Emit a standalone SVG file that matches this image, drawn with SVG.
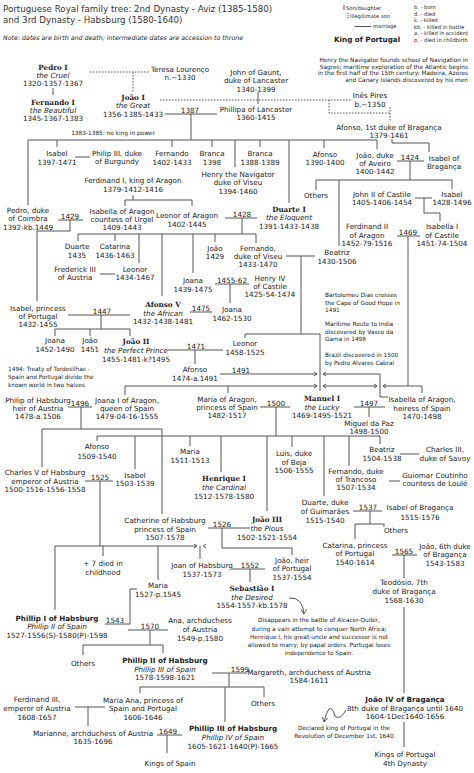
<svg xmlns="http://www.w3.org/2000/svg" width="474" height="773" viewBox="0 0 474 773">
<style>
text{font-family:"DejaVu Sans",Verdana,sans-serif;font-size:7.2px;fill:#222;text-anchor:middle}
.k{font-family:"DejaVu Serif",Georgia,serif;font-weight:bold}
.b{font-weight:bold}
.i{font-style:italic}
.s{font-size:5.8px}
.g{font-size:5.2px;text-anchor:start}
.l{text-anchor:start}
.r{text-anchor:end}
.ttl{font-size:8.7px;text-anchor:start;fill:#333}
.note{font-size:6.3px;font-style:italic;text-anchor:start}
#connectors path{stroke:#555;fill:none;stroke-width:1}
#connectors .d{stroke-dasharray:1.5 1.5}
</style>
<defs>
<marker id="ah" markerWidth="6" markerHeight="6" refX="5" refY="3" orient="auto" markerUnits="userSpaceOnUse">
<path d="M0,0 L5,3 L0,6" fill="none" stroke="#444" stroke-width="0.8"/>
</marker>
</defs>
<rect width="474" height="773" fill="#fff"/>

<g id="header">
<text class="ttl" x="3" y="12">Portuguese Royal family tree: 2nd Dynasty - Aviz (1385-1580)</text>
<text class="ttl" x="3" y="23">and 3rd Dynasty - Habsburg (1580-1640)</text>
<text class="note" x="3" y="40">Note: dates are birth and death; intermediate dates are accession to throne</text>
</g>

<g id="legend">
<path d="M344 5V10" stroke="#555"/>
<path d="M348 13V19" stroke="#555" stroke-dasharray="1 1"/>
<path d="M355 26.5H371" stroke="#555"/>
<text class="g" x="346" y="10">Son/daughter</text>
<text class="g" x="350" y="18">Illegitimate son</text>
<text class="g" x="373" y="28">marriage</text>
<text class="b l" x="334" y="42">King of Portugal</text>
<text class="g" x="414" y="9">b. - born</text>
<text class="g" x="414" y="15.5">d. - died</text>
<text class="g" x="414" y="22">k. - killed</text>
<text class="g" x="414" y="28.5">kb. - killed in battle</text>
<text class="g" x="414" y="35">a. - killed in accident</text>
<text class="g" x="414" y="41.5">p. - died in childbirth</text>
</g>

<g id="notes">
<text class="s r" x="468" y="62.1">Henry the Navigator founds school of Navigation in</text>
<text class="s r" x="468" y="68.6">Sagres; maritime exploration of the Atlantic begins</text>
<text class="s r" x="468" y="75.1">in the first half of the 15th century: Madeira, Azores</text>
<text class="s r" x="468" y="81.6">and Canary Islands discovered by his men</text>
<text class="s" x="113" y="135.1">1383-1385: no king in power</text>
<text class="s l" x="8" y="371.1">1494: Treaty of Tordesilhas -</text>
<text class="s l" x="8" y="379.1">Spain and Portugal divide the</text>
<text class="s l" x="8" y="387.1">known world in two halves</text>
<text class="s l" x="325" y="297.1">Bartolomeu Dias crosses</text>
<text class="s l" x="325" y="305.1">the Cape of Good Hope in</text>
<text class="s l" x="325" y="312.1">1491</text>
<text class="s l" x="325" y="326.1">Maritime Route to India</text>
<text class="s l" x="325" y="334.1">discovered by Vasco da</text>
<text class="s l" x="325" y="341.1">Gama in 1498</text>
<text class="s l" x="325" y="357.1">Brazil discovered in 1500</text>
<text class="s l" x="325" y="365.1">by Pedro Alvares Cabral</text>
<text class="s" x="319" y="622.1">Disappears in the battle of Alcacer-Quibir,</text>
<text class="s" x="319" y="631.1">during a vain attempt to conquer North Africa;</text>
<text class="s" x="319" y="639.1">Henrique I, his great-uncle and successor is not</text>
<text class="s" x="319" y="647.1">allowed to marry, by papal orders. Portugal loses</text>
<text class="s" x="319" y="655.1">independence to Spain.</text>
<text class="s" x="344" y="730.1">Declared king of Portugal in the</text>
<text class="s" x="344" y="738.1">Revolution of December 1st, 1640</text>
</g>

<g id="years">
<text x="190" y="112.8">1387</text>
<text x="410" y="159.8">1424</text>
<text x="70" y="218.8">1429</text>
<text x="242" y="216.8">1428</text>
<text x="408" y="234.8">1469</text>
<text x="102" y="313.8">1447</text>
<text x="201" y="310.8">1475</text>
<text x="232" y="282.8">1455-62</text>
<text x="196" y="348.8">1471</text>
<text x="241" y="372.8">1491</text>
<text x="80" y="405.8">1496</text>
<text x="276" y="405.8">1500</text>
<text x="369" y="405.8">1497</text>
<text x="100" y="479.8">1525</text>
<text x="222" y="526.8">1526</text>
<text x="368" y="509.8">1537</text>
<text x="250" y="567.8">1552</text>
<text x="404" y="553.8">1565</text>
<text x="115" y="622.8">1543</text>
<text x="150" y="628.8">1570</text>
<text x="240" y="671.8">1599</text>
<text x="168" y="733.8">1649</text>
</g>

<g id="connectors">
<path class="d" d="M90 72H150M133 72V92"/>
<path class="d" d="M160 100H352M329 100V113H390M390 107V121"/>
<path d="M53 88V95"/>
<path d="M258 92V104"/>
<path d="M165 114H217M191 114V140"/>
<path d="M28 140H377M28 140V205M57 140V147M172 140V147M212 140V147M235 140V167M260 140V147M289 140V203M324 140V148M377 140V149"/>
<path d="M75 157H90"/>
<path d="M133 195V200M125 206V200H192V206"/>
<path d="M58 220H83M70 220V231H37V301"/>
<path d="M225 218H257M242 218V234"/>
<path d="M78 234H256M78 234V241M115 234V241M139 234V263M162 234V296M193 234V273M215 234V242M256 234V243"/>
<path d="M392 139V143H429V152"/>
<path d="M397 161H424M410 161V180M316 180H452M316 180V190M339 180V246M452 180V189"/>
<path d="M415 198H432M424 198V213H440V221"/>
<path d="M397 236H420M408 236V386"/>
<path d="M100 274H115"/>
<path d="M286 256H315M301 256V334M245 334H320M245 334V338M320 334V391"/>
<path d="M215 284H249M230 284V303"/>
<path d="M190 312H212"/>
<path d="M68 315H130M101 315V329M55 329H130M55 329V336M90 329V336M130 329V336"/>
<path d="M168 350H223M195 350V364"/>
<path d="M220 374H317M314 372L317 374L314 376M326 372L323 374L326 376M323 374H380V397H388"/>
<path d="M125 386H317M314 384L317 386L314 388M326 384L323 386L326 388M323 386H377M374 384L377 386L374 388M386 384L383 386L386 388M383 386H422M125 386V395M228 386V393M422 386V393"/>
<path d="M68 407H92M81 407V429M42 429H162M42 429V467M162 429V514"/>
<path d="M260 407H290M276 407V436"/>
<path d="M354 407H385M369 407V417"/>
<path d="M97 436H380M97 436V441M135 436V469M190 436V446M221 436V472M267 436V511M292 436V447M324 436V496M349 436V466M380 436V444"/>
<path d="M400 454H419"/>
<path d="M389 481H400"/>
<path d="M85 481H113M100 481V546M55 546H197M194 544L197 546L194 548M206 544L203 546L206 548M55 546V610M103 546V556M158 546V580M200 546V559"/>
<path d="M208 528H250M222 528V548H292V555"/>
<path d="M232 569H265M250 569V582"/>
<path d="M289 598Q303 597 304 614" marker-end="url(#ah)"/>
<path d="M137 589H130V624M105 624H130"/>
<path d="M128 630H168M150 630V645M83 645H163M83 645V655M163 645V653"/>
<path d="M353 511H382M370 511V524M355 524H384M355 524V539M384 524V527"/>
<path d="M392 555H417M404 555V578M404 607V693"/>
<path d="M404 722V747"/>
<path d="M212 673H247M229 673V687M140 687H264M140 687V693M225 687V722M264 687V697"/>
<path d="M75 707H105M88 707V726"/>
<path d="M157 735H182M167 735V753"/>
<path d="M346 710Q340 721 335 716Q332 706 329 709Q326 713 324 722" marker-end="url(#ah)"/>
</g>

<g id="pedro1"><text class="k" x="53" y="69.6">Pedro I</text><text class="i" x="53" y="77.6">the Cruel</text><text x="53" y="85.6">1320-1357-1367</text></g>
<g id="fernando1"><text class="k" x="53" y="104.6">Fernando I</text><text class="i" x="53" y="112.6">the Beautiful</text><text x="53" y="120.6">1345-1367-1383</text></g>
<g id="teresa"><text x="180" y="71.6">Teresa Lourenço</text><text x="180" y="79.6">n.~1330</text></g>
<g id="joao1"><text class="k" x="133" y="99.6">João I</text><text class="i" x="133" y="107.6">the Great</text><text x="133" y="116.6">1356-1385-1433</text></g>
<g id="gaunt"><text x="256" y="74.6">John of Gaunt,</text><text x="256" y="82.6">duke of Lancaster</text><text x="256" y="91.6">1340-1399</text></g>
<g id="phillipa"><text x="256" y="111.6">Phillipa of Lancaster</text><text x="256" y="119.6">1360-1415</text></g>
<g id="ines"><text x="370" y="97.6">Inês Pires</text><text x="370" y="106.6">b.~1350</text></g>
<g id="afonso-braganca"><text x="389" y="129.6">Afonso, 1st duke of Bragança</text><text x="389" y="137.6">1379-1461</text></g>
<g id="isabel1397"><text x="57" y="155.6">Isabel</text><text x="57" y="164.6">1397-1471</text></g>
<g id="philip3"><text x="117" y="155.6">Philip III, duke</text><text x="117" y="163.6">of Burgundy</text></g>
<g id="fernando1402"><text x="172" y="155.6">Fernando</text><text x="172" y="164.6">1402-1433</text></g>
<g id="branca1398"><text x="212" y="155.6">Branca</text><text x="212" y="164.6">1398</text></g>
<g id="henry"><text x="238" y="176.6">Henry the Navigator</text><text x="238" y="184.6">duke of Viseu</text><text x="238" y="193.6">1394-1460</text></g>
<g id="branca1388"><text x="260" y="155.6">Branca</text><text x="260" y="164.6">1388-1389</text></g>
<g id="afonso1390"><text x="325" y="156.6">Afonso</text><text x="325" y="164.6">1390-1400</text></g>
<g id="joao-aveiro"><text x="375" y="157.6">João, duke</text><text x="375" y="165.6">of Aveiro</text><text x="375" y="173.6">1400-1442</text></g>
<g id="isabel-braganca"><text x="444" y="160.6">Isabel of</text><text x="444" y="168.6">Bragança</text></g>
<g id="ferdinand1"><text x="133" y="182.6">Ferdinand I, king of Aragon</text><text x="133" y="191.6">1379-1412-1416</text></g>
<g id="pedro-coimbra"><text x="28" y="212.6">Pedro, duke</text><text x="28" y="220.6">of Coimbra</text><text x="28" y="229.6">1392-kb.1449</text></g>
<g id="isabella-urgel"><text x="122" y="213.6">Isabella of Aragon</text><text x="122" y="221.6">countess of Urgel</text><text x="122" y="229.6">1409-1443</text></g>
<g id="leonor-aragon"><text x="187" y="217.6">Leonor of Aragon</text><text x="187" y="226.6">1402-1445</text></g>
<g id="duarte1"><text class="k" x="289" y="211.6">Duarte I</text><text class="i" x="289" y="219.6">the Eloquent</text><text x="289" y="228.6">1391-1433-1438</text></g>
<g id="others1"><text x="316" y="197.6">Others</text></g>
<g id="john2"><text x="382" y="196.6">John II of Castile</text><text x="382" y="204.6">1405-1406-1454</text></g>
<g id="isabel1428"><text x="452" y="196.6">Isabel</text><text x="452" y="204.6">1428-1496</text></g>
<g id="ferdinand2"><text x="367" y="228.6">Ferdinand II</text><text x="367" y="237.6">of Aragon</text><text x="367" y="245.6">1452-79-1516</text></g>
<g id="isabella1"><text x="442" y="228.6">Isabella I</text><text x="442" y="237.6">of Castile</text><text x="442" y="245.6">1451-74-1504</text></g>
<g id="duarte1435"><text x="77" y="248.6">Duarte</text><text x="77" y="257.6">1435</text></g>
<g id="catarina1436"><text x="115" y="248.6">Catarina</text><text x="115" y="257.6">1436-1463</text></g>
<g id="joao1429"><text x="215" y="250.6">João</text><text x="215" y="258.6">1429</text></g>
<g id="fernando-viseu"><text x="258" y="250.6">Fernando,</text><text x="258" y="258.6">duke of Viseu</text><text x="258" y="266.6">1433-1470</text></g>
<g id="beatriz1430"><text x="337" y="254.6">Beatriz</text><text x="337" y="263.6">1430-1506</text></g>
<g id="frederick3"><text x="75" y="271.6">Frederick III</text><text x="75" y="279.6">of Austria</text></g>
<g id="leonor1434"><text x="135" y="271.6">Leonor</text><text x="135" y="279.6">1434-1467</text></g>
<g id="joana1439"><text x="193" y="282.6">Joana</text><text x="193" y="291.6">1439-1475</text></g>
<g id="henry4"><text x="270" y="280.6">Henry IV</text><text x="270" y="288.6">of Castile</text><text x="270" y="296.6">1425-54-1474</text></g>
<g id="afonso5"><text class="k" x="163" y="306.6">Afonso V</text><text class="i" x="163" y="315.6">the African</text><text x="163" y="323.6">1432-1438-1481</text></g>
<g id="joana1462"><text x="232" y="311.6">Joana</text><text x="232" y="320.6">1462-1530</text></g>
<g id="isabel-princess"><text x="38" y="310.6">Isabel, princess</text><text x="38" y="318.6">of Portugal</text><text x="38" y="326.6">1432-1455</text></g>
<g id="joana1452"><text x="55" y="342.6">Joana</text><text x="55" y="351.6">1452-1490</text></g>
<g id="joao1451"><text x="90" y="342.6">João</text><text x="90" y="351.6">1451</text></g>
<g id="joao2"><text class="k" x="136" y="343.6">João II</text><text class="i" x="136" y="352.6">the Perfect Prince</text><text x="136" y="361.6">1455-1481-k?1495</text></g>
<g id="leonor1458"><text x="245" y="345.6">Leonor</text><text x="245" y="354.6">1458-1525</text></g>
<g id="afonso1474"><text x="195" y="371.6">Afonso</text><text x="195" y="380.6">1474-a.1491</text></g>
<g id="philip-habsburg"><text x="38" y="402.6">Philip of Habsburg</text><text x="38" y="410.6">heir of Austria</text><text x="38" y="418.6">1478-a.1506</text></g>
<g id="joana1"><text x="127" y="402.6">Joana I of Aragon,</text><text x="127" y="410.6">queen of Spain</text><text x="127" y="418.6">1479-04-16-1555</text></g>
<g id="maria-aragon"><text x="227" y="401.6">Maria of Aragon,</text><text x="227" y="409.6">princess of Spain</text><text x="227" y="417.6">1482-1517</text></g>
<g id="manuel1"><text class="k" x="322" y="400.6">Manuel I</text><text class="i" x="322" y="409.6">the Lucky</text><text x="322" y="417.6">1469-1495-1521</text></g>
<g id="isabella-aragon"><text x="422" y="401.6">Isabella of Aragon,</text><text x="422" y="410.6">heiress of Spain</text><text x="422" y="418.6">1470-1498</text></g>
<g id="miguel"><text x="369" y="425.6">Miguel da Paz</text><text x="369" y="434.3">1498-1500</text></g>
<g id="afonso1509"><text x="97" y="448.6">Afonso</text><text x="97" y="458.6">1509-1540</text></g>
<g id="maria1511"><text x="190" y="453.6">Maria</text><text x="190" y="462.6">1511-1513</text></g>
<g id="luis"><text x="294" y="455.6">Luís, duke</text><text x="294" y="464.6">of Beja</text><text x="294" y="472.6">1506-1555</text></g>
<g id="beatriz1504"><text x="382" y="451.6">Beatriz</text><text x="382" y="460.6">1504-1538</text></g>
<g id="charles3"><text x="445" y="451.6">Charles III,</text><text x="445" y="460.6">duke of Savoy</text></g>
<g id="fernando-trancoso"><text x="356" y="473.6">Fernando, duke</text><text x="356" y="481.6">of Trancoso</text><text x="356" y="489.6">1507-1534</text></g>
<g id="guiomar"><text x="435" y="477.6">Guiomar Coutinho</text><text x="435" y="485.6">countess de Loulé</text></g>
<g id="charles5"><text x="45" y="474.6">Charles V of Habsburg</text><text x="45" y="483.6">emperor of Austria</text><text x="45" y="491.6">1500-1516-1556-1558</text></g>
<g id="isabel1503"><text x="135" y="477.6">Isabel</text><text x="135" y="485.6">1503-1539</text></g>
<g id="henrique1"><text class="k" x="224" y="480.6">Henrique I</text><text class="i" x="224" y="489.6">the Cardinal</text><text x="224" y="498.6">1512-1578-1580</text></g>
<g id="duarte-guimaraes"><text x="325" y="504.6">Duarte, duke</text><text x="325" y="513.6">of Guimarães</text><text x="325" y="522.6">1515-1540</text></g>
<g id="isabel-braganca2"><text x="420" y="509.6">Isabel of Bragança</text><text x="420" y="519.6">1515-1576</text></g>
<g id="catherine"><text x="165" y="522.6">Catherine of Habsburg</text><text x="165" y="531.6">princess of Spain</text><text x="165" y="539.6">1507-1578</text></g>
<g id="joao3"><text class="k" x="267" y="521.6">João III</text><text class="i" x="267" y="530.6">the Pious</text><text x="267" y="539.6">1502-1521-1554</text></g>
<g id="others2"><text x="396" y="532.6">Others</text></g>
<g id="catarina1540"><text x="355" y="547.6">Catarina, princess</text><text x="355" y="555.6">of Portugal</text><text x="355" y="564.6">1540-1614</text></g>
<g id="joao6"><text x="445" y="548.6">João, 6th duke</text><text x="445" y="556.6">of Bragança</text><text x="445" y="565.6">1543-1583</text></g>
<g id="died7"><text x="103" y="565.6">+ 7 died in</text><text x="103" y="574.6">childhood</text></g>
<g id="joan-habsburg"><text x="202" y="567.6">Joan of Habsburg</text><text x="202" y="576.6">1537-1573</text></g>
<g id="joao-heir"><text x="292" y="562.6">João, heir</text><text x="292" y="570.6">of Portugal</text><text x="292" y="579.6">1537-1554</text></g>
<g id="sebastiao"><text class="k" x="252" y="590.6">Sebastião I</text><text class="i" x="252" y="599.6">the Desired</text><text x="252" y="607.6">1554-1557-kb.1578</text></g>
<g id="teodosio"><text x="404" y="584.6">Teodósio, 7th</text><text x="404" y="593.6">duke of Bragança</text><text x="404" y="602.6">1568-1630</text></g>
<g id="maria1527"><text x="158" y="587.6">Maria</text><text x="158" y="596.6">1527-p.1545</text></g>
<g id="phillip1"><text class="b" x="57" y="620.6">Phillip I of Habsburg</text><text class="i" x="57" y="628.6">Phillip II of Spain</text><text x="57" y="637.6">1527-1556(S)-1580(P)-1598</text></g>
<g id="ana"><text x="200" y="622.6">Ana, archduchess</text><text x="200" y="631.6">of Austria</text><text x="200" y="640.6">1549-p.1580</text></g>
<g id="others3"><text x="83" y="665.6">Others</text></g>
<g id="phillip2"><text class="b" x="165" y="662.6">Phillip II of Habsburg</text><text class="i" x="165" y="671.6">Phillip III of Spain</text><text x="165" y="679.6">1578-1598-1621</text></g>
<g id="margareth"><text x="309" y="674.6">Margareth, archduchess of Austria</text><text x="309" y="682.6">1584-1611</text></g>
<g id="others4"><text x="263" y="705.6">Others</text></g>
<g id="ferdinand3"><text x="37" y="701.6">Ferdinand III,</text><text x="37" y="710.6">emperor of Austria</text><text x="37" y="719.6">1608-1657</text></g>
<g id="maria-ana"><text x="143" y="702.6">Maria Ana, princess of</text><text x="143" y="710.6">Spain and Portugal</text><text x="143" y="719.6">1606-1646</text></g>
<g id="joao4"><text class="b" x="405" y="701.6">João IV of Bragança</text><text x="405" y="710.6">8th duke of Bragança until 1640</text><text x="405" y="718.6">1604-1Dec1640-1656</text></g>
<g id="phillip3"><text class="b" x="233" y="730.6">Phillip III of Habsburg</text><text class="i" x="233" y="739.6">Phillip IV of Spain</text><text x="233" y="748.6">1605-1621-1640(P)-1665</text></g>
<g id="marianne"><text x="93" y="735.6">Marianne, archduchess of Austria</text><text x="93" y="743.6">1635-1696</text></g>
<g id="kings-spain"><text x="170" y="765.6">Kings of Spain</text></g>
<g id="kings-portugal"><text x="405" y="756.6">Kings of Portugal</text><text x="405" y="765.6">4th Dynasty</text></g>
</svg>
